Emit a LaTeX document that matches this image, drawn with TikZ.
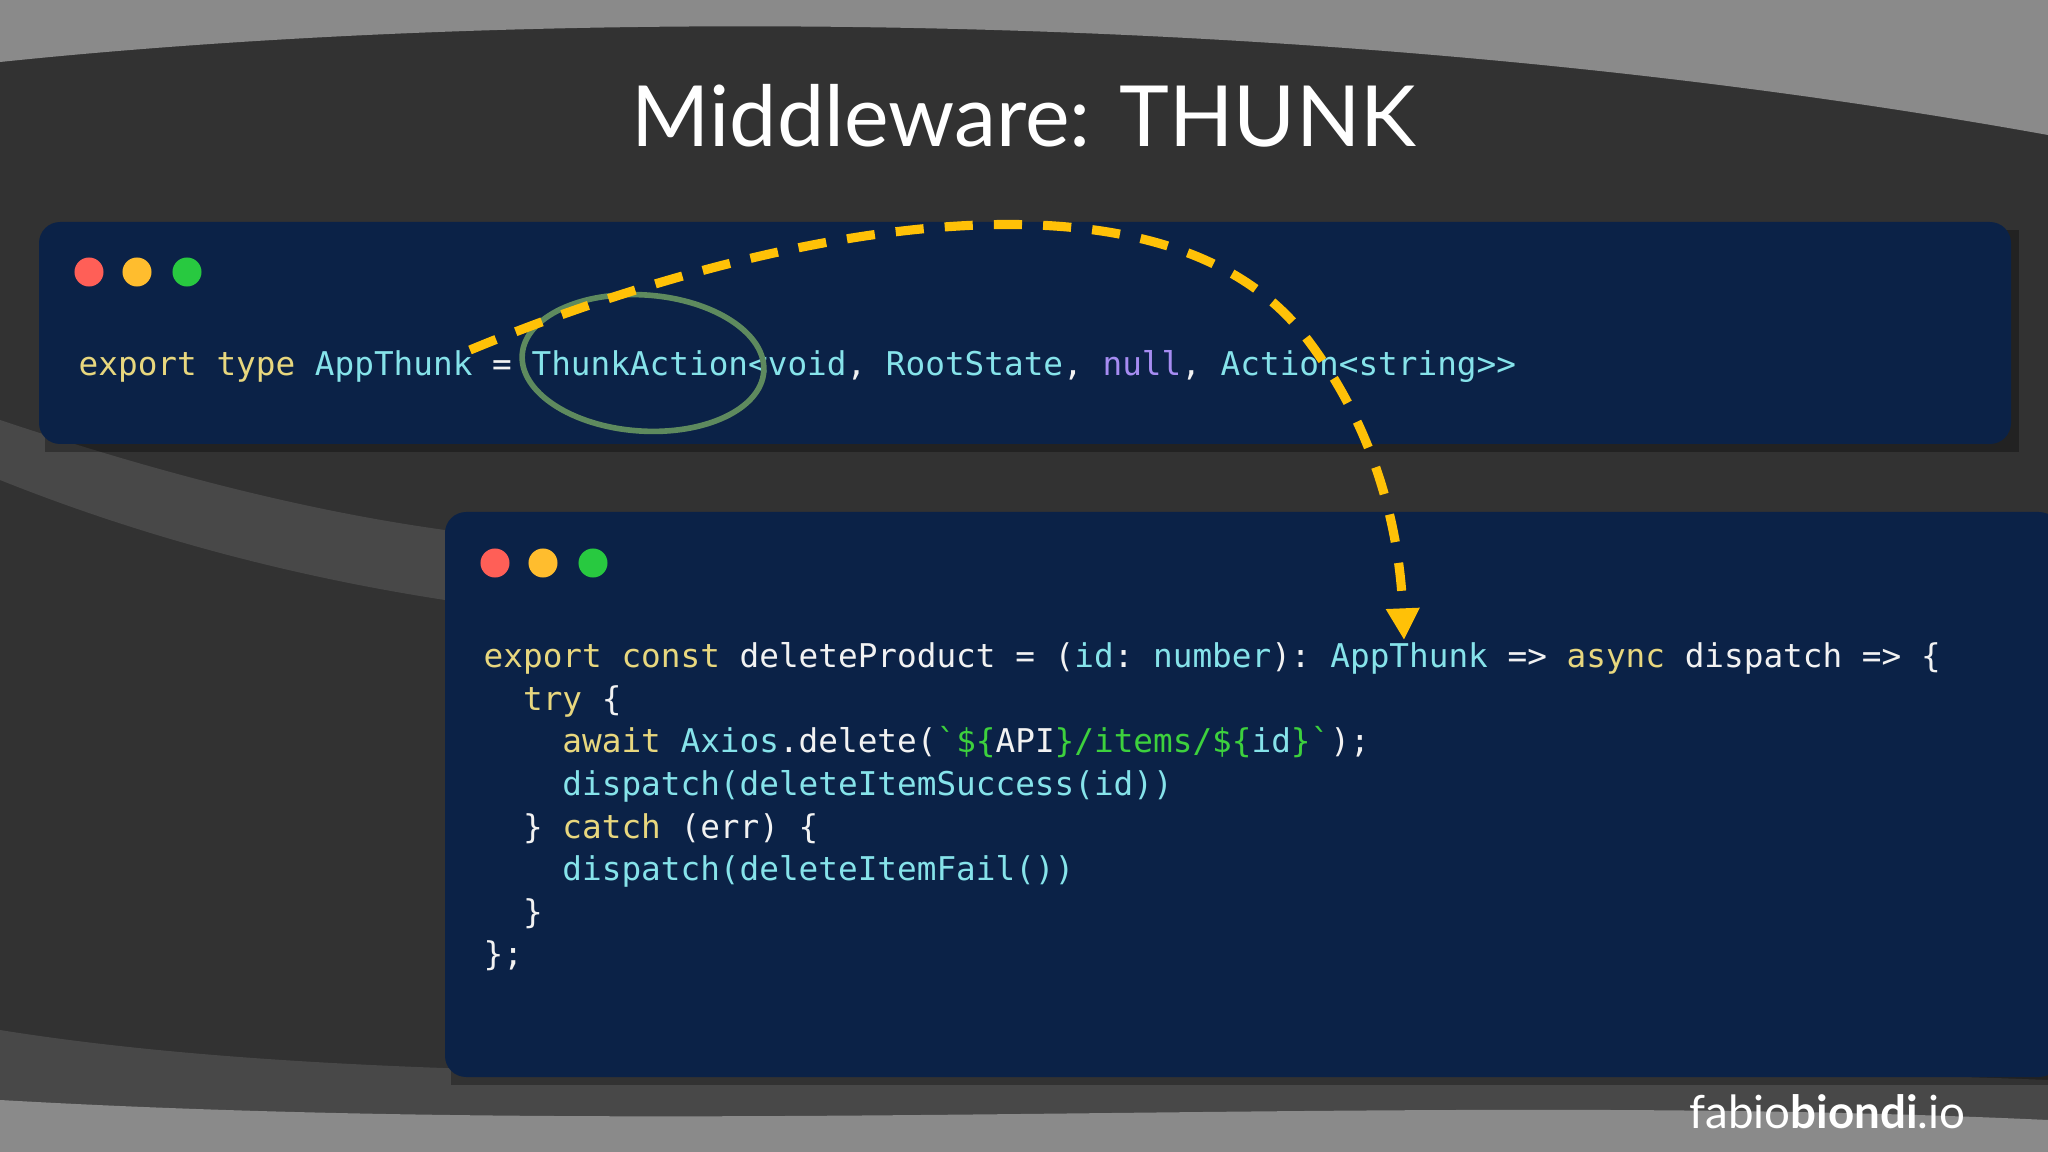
\documentclass[tikz,border=0pt]{standalone}
\usepackage{fontspec}
\setmainfont{Lato}
\setmonofont{DejaVu Sans Mono}
\usetikzlibrary{arrows.meta,shapes.geometric}
\definecolor{bgdark}{HTML}{323232}
\definecolor{bglight}{HTML}{8A8A8A}
\definecolor{bgmid}{HTML}{484848}
\definecolor{panel}{HTML}{0B2247}
\definecolor{kw}{HTML}{E8D77E}
\definecolor{ty}{HTML}{86E3EA}
\definecolor{id}{HTML}{F2F2F2}
\definecolor{nl}{HTML}{A68CF2}
\definecolor{st}{HTML}{3DD13D}
\definecolor{dotred}{HTML}{FF5F57}
\definecolor{dotyellow}{HTML}{FFBD2E}
\definecolor{dotgreen}{HTML}{28C940}
\definecolor{ring}{HTML}{5E8A5E}
\definecolor{arrowyellow}{HTML}{FFC107}
\newcommand{\K}[1]{\textcolor{kw}{#1}}
\newcommand{\T}[1]{\textcolor{ty}{#1}}
\newcommand{\N}[1]{\textcolor{nl}{#1}}
\newcommand{\G}[1]{\textcolor{st}{#1}}
\tikzset{
  codebox/.style={fill=panel, rounded corners=6pt},
  codeline/.style={anchor=base west, inner sep=0pt, text=id, font=\fontsize{9.3}{11}\selectfont\ttfamily},
  windot/.style={circle, inner sep=0pt, minimum size=0.29cm},
  thunkarrow/.style={arrowyellow, line width=2.6pt, dash pattern=on 8pt off 6pt, -{Triangle[length=9pt,width=9pt]}}
}
\begin{document}
\begin{tikzpicture}[x=0.01cm,y=-0.01cm]
          \useasboundingbox (0,0) rectangle (2048,1152);
          % background
          \fill[bgdark] (0,0) rectangle (2048,1152);
          \fill[bglight] (0,0) -- (0,62) .. controls (500,10) and (1300,0) .. (2048,135) -- (2048,0) -- cycle;
          \fill[bgmid] (0,420) .. controls (150,470) and (300,510) .. (445,530) -- (445,600) .. controls (250,570) and (100,520) .. (0,480) -- cycle;
          \fill[bgmid] (0,1030) .. controls (500,1110) and (1300,1050) .. (2048,1080) -- (2048,1152) -- (0,1152) -- cycle;
          \fill[bglight] (0,1100) .. controls (700,1140) and (1400,1090) .. (2048,1120) -- (2048,1152) -- (0,1152) -- cycle;

          \node[text=white, font=\fontsize{24}{28}\selectfont] (title) at (1024,116) {Middleware: THUNK};

          % top window
          \fill[black, opacity=0.3] (45,230) rectangle (2019,452);
          \fill[codebox] (39,222) rectangle (2011,444);
          \node[windot, fill=dotred] (r1) at (89,272) {};
          \node[windot, fill=dotyellow] (y1) at (137,272) {};
          \node[windot, fill=dotgreen] (g1) at (187,272) {};
          \node[codeline] (typeline) at (78,376) {\K{export type} \T{AppThunk} = \T{ThunkAction<void}, \T{RootState}, \N{null}, \T{Action<string>>}};

          % bottom window
          \fill[black, opacity=0.3] (451,520) rectangle (2048,1085);
          \fill[codebox] (445,512) rectangle (2060,1077);
          \node[windot, fill=dotred] (r2) at (495,563) {};
          \node[windot, fill=dotyellow] (y2) at (543,563) {};
          \node[windot, fill=dotgreen] (g2) at (593,563) {};
          \node[codeline] (c1) at (483,667) {\K{export const} deleteProduct = (\T{id}: \T{number}): \T{AppThunk} => \K{async} dispatch => \{};
          \node[codeline] (c2) at (483,710) {\ \ \K{try} \{};
          \node[codeline] (c3) at (483,752) {\ \ \ \ \K{await} \T{Axios}.delete(\G{\textasciigrave\$\{}API\G{\}/items/\$\{}\T{id}\G{\}\textasciigrave});};
          \node[codeline] (c4) at (483,795) {\ \ \ \ \T{dispatch(deleteItemSuccess(id))}};
          \node[codeline] (c5) at (483,838) {\ \ \} \K{catch} (err) \{};
          \node[codeline] (c6) at (483,880) {\ \ \ \ \T{dispatch(deleteItemFail())}};
          \node[codeline] (c7) at (483,923) {\ \ \}};
          \node[codeline] (c8) at (483,965) {\};};

          % highlight
          \node[draw=ring, line width=1.6pt, ellipse, rotate=-4, minimum width=2.42cm, minimum height=1.36cm] (thunkring) at (643,363) {};
          \coordinate (from) at (470,350);
          \coordinate (to) at (1404,640);
          \draw[thunkarrow] (from) .. controls (760,230) and (1150,150) .. (1300,330) .. controls (1380,430) and (1400,540) .. (to);

          \node[anchor=base east, text=white, font=\fontsize{13}{16}\selectfont] (brand) at (1978,1128) {fabio\textbf{biondi}.io};
        \end{tikzpicture}
\end{document}
